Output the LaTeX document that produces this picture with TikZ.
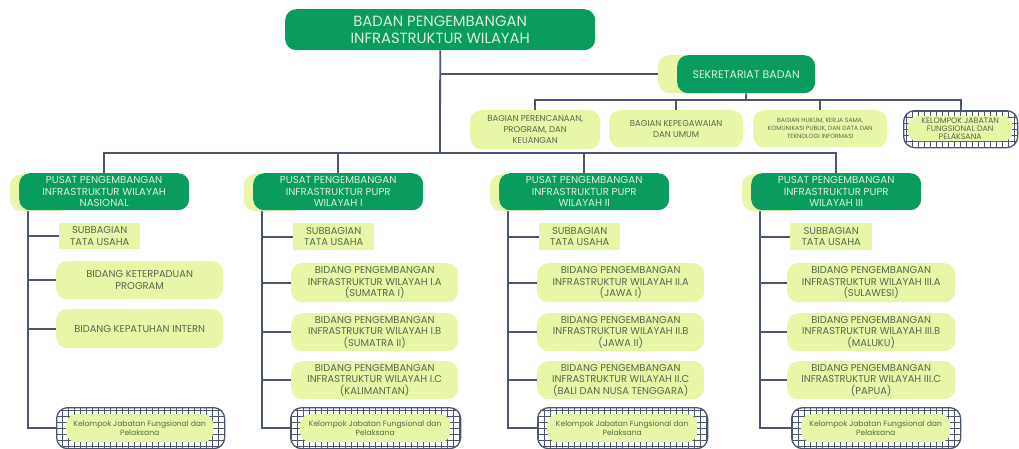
\documentclass[tikz,border=0pt]{standalone}
\usepackage{fontspec}
\setmainfont{Poppins}
\usetikzlibrary{backgrounds}
\definecolor{dkgreen}{HTML}{0A9B5F}
\definecolor{ltgreen}{HTML}{E7F6A7}
\definecolor{linec}{HTML}{4D5670}
\definecolor{paletxt}{HTML}{DDF0DD}
\definecolor{dktxt}{HTML}{55684E}
\tikzset{
  box/.style={anchor=north west, inner sep=0pt, align=center, rounded corners=11pt},
  dkbox/.style={box, fill=dkgreen, text=paletxt},
  ltbox/.style={box, fill=ltgreen, text=dktxt},
  sqbox/.style={box, rounded corners=0pt, fill=ltgreen, text=dktxt},
  backbox/.style={box, fill=ltgreen},
  hatchbox/.style={box, draw=linec, line width=1.3pt, fill=white,
    path picture={\draw[linec, line width=0.6pt, step=6pt]
      ([shift={(-6pt,-6pt)}]path picture bounding box.south west) grid
      ([shift={(6pt,6pt)}]path picture bounding box.north east);}},
  conn/.style={draw=linec, line width=1.8pt},
  fbig/.style={font=\fontsize{14.8}{17}\selectfont},
  fsek/.style={font=\fontsize{11}{13}\selectfont},
  fpus/.style={font=\fontsize{10.2}{11.5}\selectfont},
  fmid/.style={font=\fontsize{9.9}{11.5}\selectfont},
  fsm/.style={font=\fontsize{8.5}{11.2}\selectfont},
  ftiny/.style={font=\fontsize{6.1}{8}\selectfont},
  fktop/.style={font=\fontsize{7.9}{7.7}\selectfont},
  fk/.style={font=\fontsize{7.6}{9.2}\selectfont},
}
\begin{document}
\begin{tikzpicture}[x=1pt,y=-1pt]
\useasboundingbox (0,0) rectangle (1019,448);
% top
\node[dkbox, fbig, minimum width=310pt, minimum height=41pt] (badan) at (285,9) {BADAN PENGEMBANGAN\\INFRASTRUKTUR WILAYAH};
% sekretariat
\node[backbox, minimum width=60pt, minimum height=38pt] (sekb) at (658,55) {};
\node[dkbox, fsek, minimum width=138pt, minimum height=38pt] (sek) at (677,55) {SEKRETARIAT BADAN};
% bagian row
\node[ltbox, fsm, minimum width=130pt, minimum height=39pt] (bg1) at (470,110) {BAGIAN PERENCANAAN,\\PROGRAM, DAN\\KEUANGAN};
\node[ltbox, fsm, minimum width=134pt, minimum height=37pt] (bg2) at (609,110) {BAGIAN KEPEGAWAIAN\\DAN UMUM};
\node[ltbox, ftiny, minimum width=134pt, minimum height=37pt] (bg3) at (753,110) {BAGIAN HUKUM, KERJA SAMA,\\KOMUNIKASI  PUBLIK, DAN DATA DAN\\TEKNOLOGI  INFORMASI};
\node[hatchbox, minimum width=114pt, minimum height=37pt] (bg4) at (903,110) {};
\node[ltbox, fktop, rounded corners=9pt, text depth=0pt, minimum width=104pt, minimum height=25pt] (bg4i) at (908,116) {KELOMPOK JABATAN\\FUNGSIONAL DAN\\PELAKSANA};

% ===== column Nasional
\node[backbox, minimum width=60pt, minimum height=37pt] (pNb) at (10,174) {};
\node[dkbox, fpus, minimum width=170pt, minimum height=37pt] (pN) at (19,173) {PUSAT PENGEMBANGAN\\INFRASTRUKTUR WILAYAH\\NASIONAL};
\node[sqbox, fmid, minimum width=81pt, minimum height=26pt] (sN) at (59,223) {SUBBAGIAN\\TATA USAHA};
\node[ltbox, fmid, minimum width=167pt, minimum height=38pt] (aN) at (56,261) {BIDANG KETERPADUAN\\PROGRAM};
\node[ltbox, fmid, minimum width=167pt, minimum height=39pt] (bN) at (56,309) {BIDANG KEPATUHAN INTERN};
\node[hatchbox, minimum width=168pt, minimum height=41pt] (kN) at (56,407) {};
\node[ltbox, fk, rounded corners=10pt, minimum width=147pt, minimum height=28pt] (kNi) at (66,414) {Kelompok Jabatan Fungsional dan\\Pelaksana};
\coordinate (cN) at (28,210);

% ===== column I
\node[backbox, minimum width=60pt, minimum height=37pt] (p1b) at (244,174) {};
\node[dkbox, fpus, minimum width=170pt, minimum height=37pt] (p1) at (253,173) {PUSAT PENGEMBANGAN\\INFRASTRUKTUR PUPR\\WILAYAH I};
\node[sqbox, fmid, minimum width=81pt, minimum height=27pt] (s1) at (293,223) {SUBBAGIAN\\TATA USAHA};
\node[ltbox, fmid, minimum width=167pt, minimum height=39pt] (a1) at (291,263) {BIDANG PENGEMBANGAN\\INFRASTRUKTUR WILAYAH I.A\\(SUMATRA I)};
\node[ltbox, fmid, minimum width=167pt, minimum height=38pt] (b1) at (291,313) {BIDANG PENGEMBANGAN\\INFRASTRUKTUR WILAYAH I.B\\(SUMATRA II)};
\node[ltbox, fmid, minimum width=167pt, minimum height=38pt] (c1) at (291,361) {BIDANG PENGEMBANGAN\\INFRASTRUKTUR WILAYAH I.C\\(KALIMANTAN)};
\node[hatchbox, minimum width=170pt, minimum height=41pt] (k1) at (290,407) {};
\node[ltbox, fk, rounded corners=10pt, minimum width=150pt, minimum height=28pt] (k1i) at (300,414) {Kelompok Jabatan Fungsional dan\\Pelaksana};
\coordinate (c1t) at (262,210);

% ===== column II
\node[backbox, minimum width=60pt, minimum height=37pt] (p2b) at (490,174) {};
\node[dkbox, fpus, minimum width=170pt, minimum height=37pt] (p2) at (499,173) {PUSAT PENGEMBANGAN\\INFRASTRUKTUR PUPR\\WILAYAH II};
\node[sqbox, fmid, minimum width=81pt, minimum height=27pt] (s2) at (539,223) {SUBBAGIAN\\TATA USAHA};
\node[ltbox, fmid, minimum width=167pt, minimum height=39pt] (a2) at (537,263) {BIDANG PENGEMBANGAN\\INFRASTRUKTUR WILAYAH II.A\\(JAWA I)};
\node[ltbox, fmid, minimum width=167pt, minimum height=38pt] (b2) at (537,313) {BIDANG PENGEMBANGAN\\INFRASTRUKTUR WILAYAH II.B\\(JAWA II)};
\node[ltbox, fmid, minimum width=167pt, minimum height=38pt] (c2) at (537,361) {BIDANG PENGEMBANGAN\\INFRASTRUKTUR WILAYAH II.C\\(BALI DAN NUSA TENGGARA)};
\node[hatchbox, minimum width=170pt, minimum height=41pt] (k2) at (537,407) {};
\node[ltbox, fk, rounded corners=10pt, minimum width=150pt, minimum height=28pt] (k2i) at (547,414) {Kelompok Jabatan Fungsional dan\\Pelaksana};
\coordinate (c2t) at (508,210);

% ===== column III
\node[backbox, minimum width=60pt, minimum height=37pt] (p3b) at (742,174) {};
\node[dkbox, fpus, minimum width=170pt, minimum height=37pt] (p3) at (751,173) {PUSAT PENGEMBANGAN\\INFRASTRUKTUR PUPR\\WILAYAH III};
\node[sqbox, fmid, minimum width=82pt, minimum height=27pt] (s3) at (790,223) {SUBBAGIAN\\TATA USAHA};
\node[ltbox, fmid, minimum width=168pt, minimum height=39pt] (a3) at (787,263) {BIDANG PENGEMBANGAN\\INFRASTRUKTUR WILAYAH III.A\\(SULAWESI)};
\node[ltbox, fmid, minimum width=168pt, minimum height=38pt] (b3) at (787,313) {BIDANG PENGEMBANGAN\\INFRASTRUKTUR WILAYAH III.B\\(MALUKU)};
\node[ltbox, fmid, minimum width=168pt, minimum height=38pt] (c3) at (787,361) {BIDANG PENGEMBANGAN\\INFRASTRUKTUR WILAYAH III.C\\(PAPUA)};
\node[hatchbox, minimum width=169pt, minimum height=41pt] (k3) at (791,407) {};
\node[ltbox, fk, rounded corners=10pt, minimum width=149pt, minimum height=28pt] (k3i) at (801,414) {Kelompok Jabatan Fungsional dan\\Pelaksana};
\coordinate (c3t) at (760,210);

\begin{scope}[on background layer]
% main trunk
\coordinate (bus) at (440,153);
\draw[conn] (badan.south) -- (bus);
\draw[conn] (badan.south |- sekb.west) -- (sekb.west);
\draw[conn] (pN.north) -- (pN.north |- bus) -| (p3.north);
\draw[conn] (p1.north) -- (p1.north |- bus);
\draw[conn] (p2.north) -- (p2.north |- bus);
% sekretariat branch
\coordinate (sbus) at (746,100);
\draw[conn] (sek.south) -- (sbus);
\draw[conn] (bg1.north) -- (bg1.north |- sbus) -| (bg4.north);
\draw[conn] (bg2.north) -- (bg2.north |- sbus);
\draw[conn] (bg3.north) -- (bg3.north |- sbus);
% children
\foreach \c/\s/\k in {cN/sN/kN, c1t/s1/k1, c2t/s2/k2, c3t/s3/k3}{
  \draw[conn] (\c) |- (\k.west);
  \draw[conn] (\c |- \s.west) -- (\s.west);
}
\foreach \c/\n in {cN/aN, cN/bN, c1t/a1, c1t/b1, c1t/c1, c2t/a2, c2t/b2, c2t/c2, c3t/a3, c3t/b3, c3t/c3}{
  \draw[conn] (\c |- \n.west) -- (\n.west);
}
\end{scope}
\end{tikzpicture}
\end{document}
